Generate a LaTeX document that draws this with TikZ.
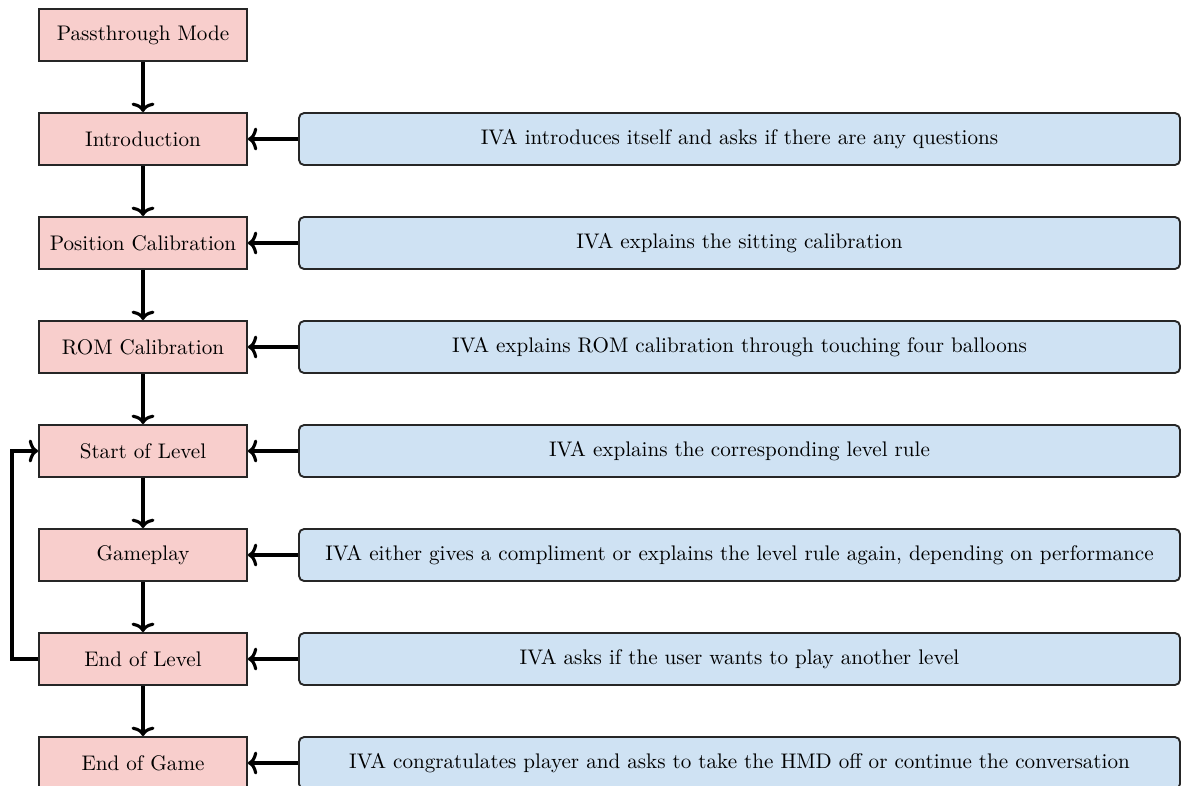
\documentclass[tikz,border=0pt]{standalone}
\usetikzlibrary{arrows.meta}
\definecolor{pinkfill}{HTML}{F8CECC}
\definecolor{bluefill}{HTML}{CFE2F3}
\begin{document}
\begin{tikzpicture}[x=0.48pt,y=-0.48pt,
  every node/.style={font=\fontsize{10.13}{12}\selectfont},
  stage/.style={draw=black!85, line width=0.9pt, fill=pinkfill, minimum width=99.8pt, minimum height=25pt, inner sep=0pt},
  note/.style={draw=black!85, line width=0.9pt, fill=bluefill, rounded corners=2.5pt, minimum width=422.9pt, minimum height=25pt, inner sep=0pt},
  conn/.style={line width=1.5pt, -{To[length=4.5pt,width=11pt]}}]
\useasboundingbox (0,0) rectangle (1183,785);
\node[stage] (s1) at (143,35) {Passthrough Mode};
\node[stage] (s2) at (143,139) {Introduction};
\node[stage] (s3) at (143,243) {Position Calibration};
\node[stage] (s4) at (143,347) {ROM Calibration};
\node[stage] (s5) at (143,451) {Start of Level};
\node[stage] (s6) at (143,555) {Gameplay};
\node[stage] (s7) at (143,659) {End of Level};
\node[stage] (s8) at (143,763) {End of Game};
\node[note] (n2) at (739.5,139) {IVA introduces itself and asks if there are any questions};
\node[note] (n3) at (739.5,243) {IVA explains the sitting calibration};
\node[note] (n4) at (739.5,347) {IVA explains ROM calibration through touching four balloons};
\node[note] (n5) at (739.5,451) {IVA explains the corresponding level rule};
\node[note] (n6) at (739.5,555) {IVA either gives a compliment or explains the level rule again, depending on performance};
\node[note] (n7) at (739.5,659) {IVA asks if the user wants to play another level};
\node[note] (n8) at (739.5,763) {IVA congratulates player and asks to take the HMD off or continue the conversation};
\foreach \a/\b in {s1/s2,s2/s3,s3/s4,s4/s5,s5/s6,s6/s7,s7/s8}
  \draw[conn] (\a) -- (\b);
\foreach \i in {2,...,8}
  \draw[conn] (n\i) -- (s\i);
\coordinate (lb) at (12,659);
\coordinate (lt) at (12,451);
\draw[conn] (s7.west) -- (lb) -- (lt) -- (s5.west);
\end{tikzpicture}
\end{document}
